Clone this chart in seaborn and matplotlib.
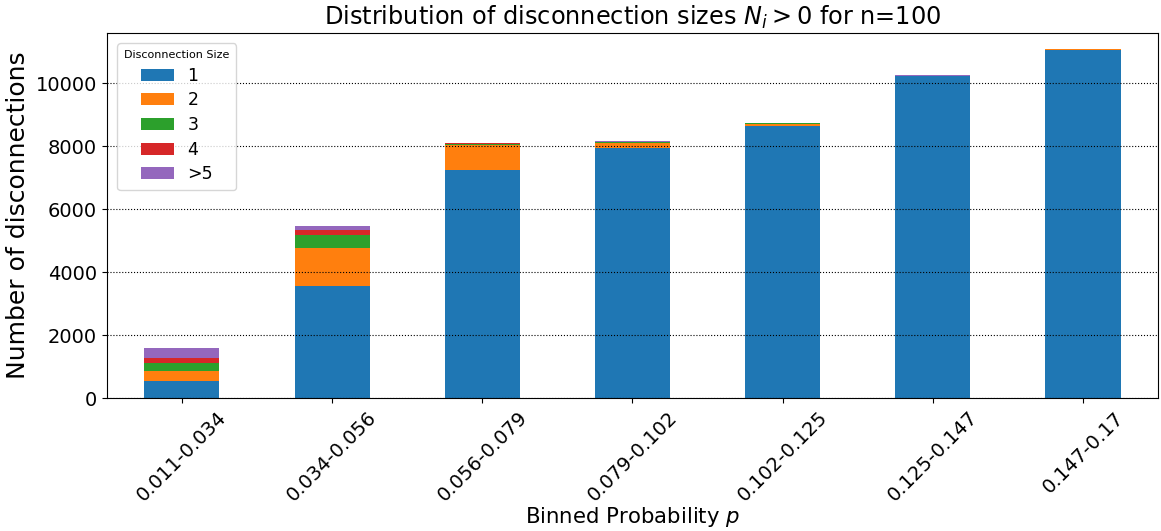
import matplotlib
matplotlib.use("Agg")
import matplotlib.pyplot as plt
import seaborn as sns
import numpy as np
import pandas as pd

categories = ["0.011-0.034", "0.034-0.056", "0.056-0.079", "0.079-0.102",
              "0.102-0.125", "0.125-0.147", "0.147-0.17"]
size_1 = [540, 3550, 7250, 7950, 8650, 10220, 11050]
size_2 = [320, 1210, 780, 170, 70, 10, 40]
size_3 = [255, 425, 50, 20, 5, 3, 3]
size_4 = [160, 150, 15, 10, 5, 2, 2]
size_gt5 = [320, 130, 20, 30, 25, 20, 5]
series_labels = ["1", "2", "3", "4", ">5"]
colors = ["#1f77b4", "#ff7f0e", "#2ca02c", "#d62728", "#9467bd"]

sns.set_style("white")
plt.rcParams['font.family'] = ['DejaVu Sans']
plt.rcParams['text.color'] = 'black'
plt.rcParams['axes.labelcolor'] = 'black'
plt.rcParams['xtick.color'] = 'black'
plt.rcParams['ytick.color'] = 'black'

fig, ax = plt.subplots(figsize=(11.61, 5.31), dpi=100)
fig.subplots_adjust(left=0.092, right=0.9975, top=0.938, bottom=0.25)

series = [size_1, size_2, size_3, size_4, size_gt5]
bottom = np.zeros(len(categories))
for vals, lab, col in zip(series, series_labels, colors):
    df = pd.DataFrame({"cat": categories, "val": vals})
    sns.barplot(data=df, x="cat", y="val", color=col, width=0.5, bottom=bottom,
                label=lab, ax=ax, saturation=1, errorbar=None, linewidth=0,
                edgecolor="none")
    bottom = bottom + np.array(vals)

ax.set_ylim(0, 11600)
ax.set_xlim(-0.5, 6.5)
ax.set_yticks([0, 2000, 4000, 6000, 8000, 10000])
ax.yaxis.grid(True, color="black", linestyle=":", linewidth=0.8)
ax.set_axisbelow(False)
for s in ax.spines.values():
    s.set_color("black")
    s.set_linewidth(0.8)
ax.tick_params(axis="both", which="both", direction="out", length=3.5, width=0.8,
               colors="black", labelsize=14, bottom=True, left=True)
plt.setp(ax.get_xticklabels(), rotation=45)
ax.set_title("Distribution of disconnection sizes $N_i > 0$ for n=100", fontsize=17.3,
             color="black")
ax.set_ylabel("Number of disconnections", fontsize=18)
ax.set_xlabel("Binned Probability $p$", fontsize=15.3, labelpad=0)
leg = ax.legend(title="Disconnection Size", loc="upper left", fontsize=12.5,
                title_fontsize=8, borderaxespad=0.6, handlelength=1.9,
                labelspacing=0.38)

fig.savefig("out.png", dpi=100)
